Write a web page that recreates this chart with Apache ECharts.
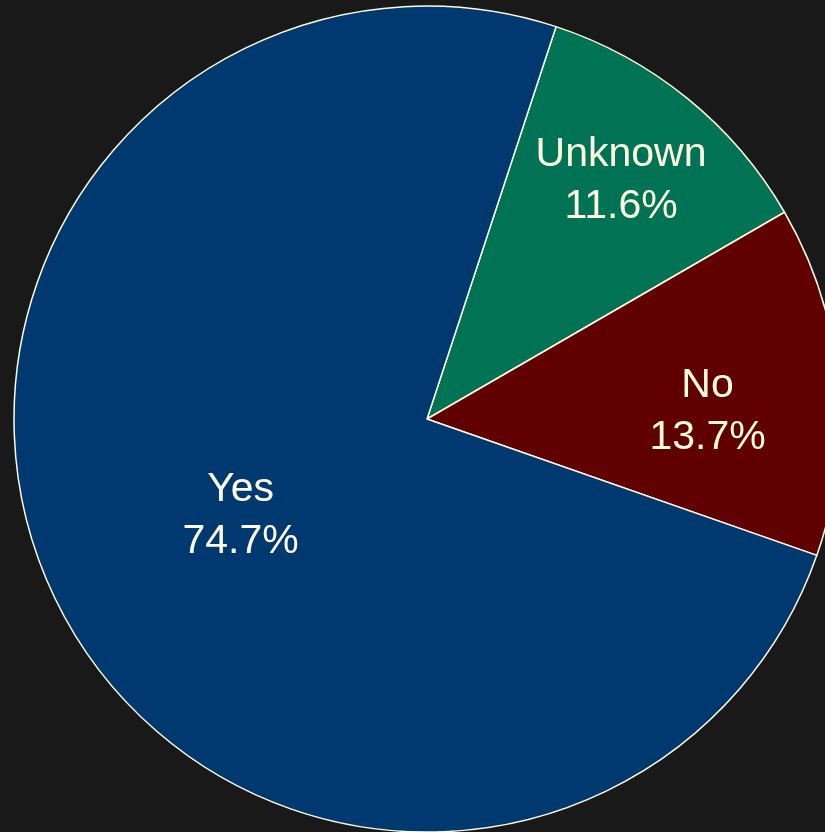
<!DOCTYPE html>
<html>
<head>
<meta charset="utf-8">
<script src="https://cdn.jsdelivr.net/npm/echarts@6/dist/echarts.min.js"></script>
<style>
  html, body { margin: 0; padding: 0; background: #191919; }
  #chart { width: 825px; height: 832px; }
</style>
</head>
<body>
<div id="chart"></div>
<script>
// Slice order runs clockwise from the top-right edge
const categories = ['Unknown', 'No', 'Yes'];
const shares = [11.6, 13.7, 74.7];
const sliceColors = ['#007355', '#600000', '#003870'];
// Small nudges of each label away from the default inside spot
const labelNudges = [[62, -76], [72, 12], [1.5, 3.5]];

const chart = echarts.init(document.getElementById('chart'), null, { renderer: 'canvas' });

chart.setOption({
  backgroundColor: '#191919',
  animation: false,
  series: [{
    type: 'pie',
    center: [427, 419],
    radius: 413,
    startAngle: 71.8,
    clockwise: true,
    avoidLabelOverlap: false,
    percentPrecision: 1,
    itemStyle: { borderColor: '#fffbe0', borderWidth: 1.5 },
    label: {
      show: true,
      position: 'inside',
      formatter: p => p.name + '\n' + p.value.toFixed(1) + '%',
      color: '#fffbe0',
      fontFamily: '"Liberation Sans", Arial, sans-serif',
      fontSize: 41,
      lineHeight: 52,
      align: 'center'
    },
    labelLine: { show: false },
    emphasis: { disabled: true },
    labelLayout: p => ({ dx: labelNudges[p.dataIndex][0], dy: labelNudges[p.dataIndex][1] }),
    data: categories.map((c, i) => ({
      name: c,
      value: shares[i],
      itemStyle: { color: sliceColors[i] }
    }))
  }]
});
</script>
</body>
</html>
